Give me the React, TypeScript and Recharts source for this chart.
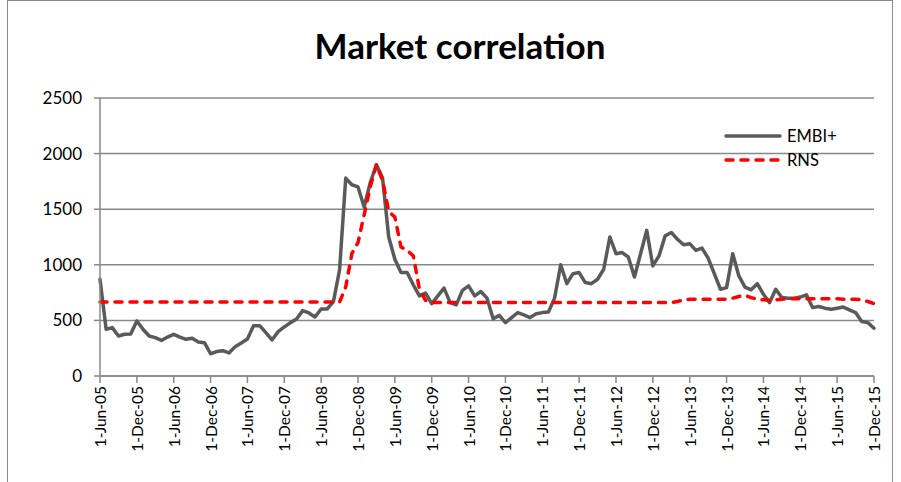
import { LineChart, Line, XAxis, YAxis, CartesianGrid } from "recharts";

const FONT = "Lato, 'Liberation Sans', sans-serif";

const monthNames = ["Jan", "Feb", "Mar", "Apr", "May", "Jun", "Jul", "Aug", "Sep", "Oct", "Nov", "Dec"];

// monthly, 1-Jun-05 .. 1-Dec-15
const embi = [
  870, 420, 435, 360, 375, 378, 495, 420, 360, 345, 320, 350,
  375, 350, 330, 340, 305, 300, 200, 220, 228, 207, 264, 297,
  333, 453, 453, 390, 324, 399, 441, 480, 513, 588, 567, 531,
  603, 603, 669, 954, 1780, 1720, 1700, 1520, 1740, 1900, 1780, 1250,
  1050, 930, 930, 820, 720, 745, 650, 720, 790, 660, 640, 770,
  810, 720, 760, 700, 515, 545, 480, 525, 570, 550, 525, 560,
  570, 575, 700, 1000, 830, 920, 930, 840, 830, 870, 960, 1250,
  1100, 1110, 1070, 890, 1100, 1310, 990, 1080, 1260, 1290, 1230, 1180,
  1190, 1130, 1150, 1060, 920, 780, 795, 1100, 900, 800, 775, 830,
  735, 660, 780, 705, 700, 700, 710, 730, 615, 625, 610, 600,
  610, 620, 595, 570, 490, 480, 430,
];

const rns = [
  665, 665, 665, 665, 665, 665, 665, 665, 665, 665, 665, 665,
  665, 665, 665, 665, 665, 665, 665, 665, 665, 665, 665, 665,
  665, 665, 665, 665, 665, 665, 665, 665, 665, 665, 665, 665,
  665, 665, 665, 665, 800, 1100, 1200, 1450, 1700, 1900, 1760, 1480,
  1430, 1160, 1130, 1080, 780, 680, 660, 660, 660, 660, 660, 660,
  660, 660, 660, 660, 660, 660, 660, 660, 660, 660, 660, 660,
  660, 660, 660, 660, 660, 660, 660, 660, 660, 660, 660, 660,
  660, 660, 660, 660, 660, 660, 660, 660, 660, 660, 670, 685,
  690, 690, 690, 690, 690, 690, 690, 700, 715, 725, 705, 690,
  685, 680, 685, 690, 695, 695, 695, 695, 695, 695, 695, 695,
  695, 690, 690, 690, 685, 670, 650,
];

const yTicks = [0, 500, 1000, 1500, 2000, 2500];

const dates = embi.map((_, i) => {
  const m = (5 + i) % 12;
  const y = 5 + Math.floor((5 + i) / 12);
  return `1-${monthNames[m]}-${String(y).padStart(2, "0")}`;
});

const data = dates.map((date, i) => ({ date, embi: embi[i], rns: rns[i] }));

const series = [
  { key: "embi", name: "EMBI+", color: "#5a5a5a", dash: undefined },
  { key: "rns", name: "RNS", color: "#ff0000", dash: "7 8" },
];

function DateTick(props: any) {
  const { x, y, payload } = props;
  return (
    <text
      x={x}
      y={y}
      transform={`rotate(-90, ${x}, ${y})`}
      textAnchor="end"
      dominantBaseline="central"
      fontSize={15.5}
      fontFamily={FONT}
      fill="#000"
    >
      {payload.value}
    </text>
  );
}

export default function App() {
  return (
    <div
      style={{
        position: "absolute",
        left: 7,
        top: 0,
        width: 884,
        height: 490,
        border: "1px solid #8a8a8a",
        background: "#fff",
      }}
    >
      <div
        style={{
          position: "absolute",
          left: 452,
          top: 23,
          transform: "translateX(-50%)",
          fontFamily: FONT,
          fontWeight: 700,
          fontSize: 35,
          whiteSpace: "nowrap",
          color: "#000",
        }}
      >
        Market correlation
      </div>
      <LineChart
        width={884}
        height={478}
        data={data}
        margin={{ top: 97, right: 18, left: 31, bottom: 13 }}
      >
        <CartesianGrid vertical={false} stroke="#888" strokeWidth={1.5} />
        <XAxis
          dataKey="date"
          interval={5}
          height={90}
          tickSize={7}
          tickMargin={3}
          tick={<DateTick />}
          axisLine={{ stroke: "#888", strokeWidth: 1.5 }}
          tickLine={{ stroke: "#888", strokeWidth: 1.5 }}
        />
        <YAxis
          domain={[0, 2500]}
          ticks={yTicks}
          width={61}
          tickSize={6}
          tickMargin={12}
          tick={{ fontSize: 17, fill: "#000", fontFamily: FONT }}
          axisLine={{ stroke: "#888", strokeWidth: 1.5 }}
          tickLine={{ stroke: "#888", strokeWidth: 1.5 }}
        />
        {series.map((s) => (
          <Line
            key={s.key}
            type="linear"
            dataKey={s.key}
            name={s.name}
            stroke={s.color}
            strokeWidth={3.5}
            strokeDasharray={s.dash}
            strokeLinecap="round"
            strokeLinejoin="round"
            dot={false}
            activeDot={false}
            isAnimationActive={false}
          />
        ))}
      </LineChart>
      <div
        style={{
          position: "absolute",
          left: 716,
          top: 123,
          fontFamily: FONT,
          fontSize: 16.5,
          color: "#000",
        }}
      >
        {series.map((s) => (
          <div key={s.key} style={{ display: "flex", alignItems: "center", height: 24 }}>
            <svg width={58} height={10}>
              <line
                x1={2}
                x2={56}
                y1={5}
                y2={5}
                stroke={s.color}
                strokeWidth={3.5}
                strokeLinecap="round"
                strokeDasharray={s.dash}
              />
            </svg>
            <span style={{ marginLeft: 5 }}>{s.name}</span>
          </div>
        ))}
      </div>
    </div>
  );
}
